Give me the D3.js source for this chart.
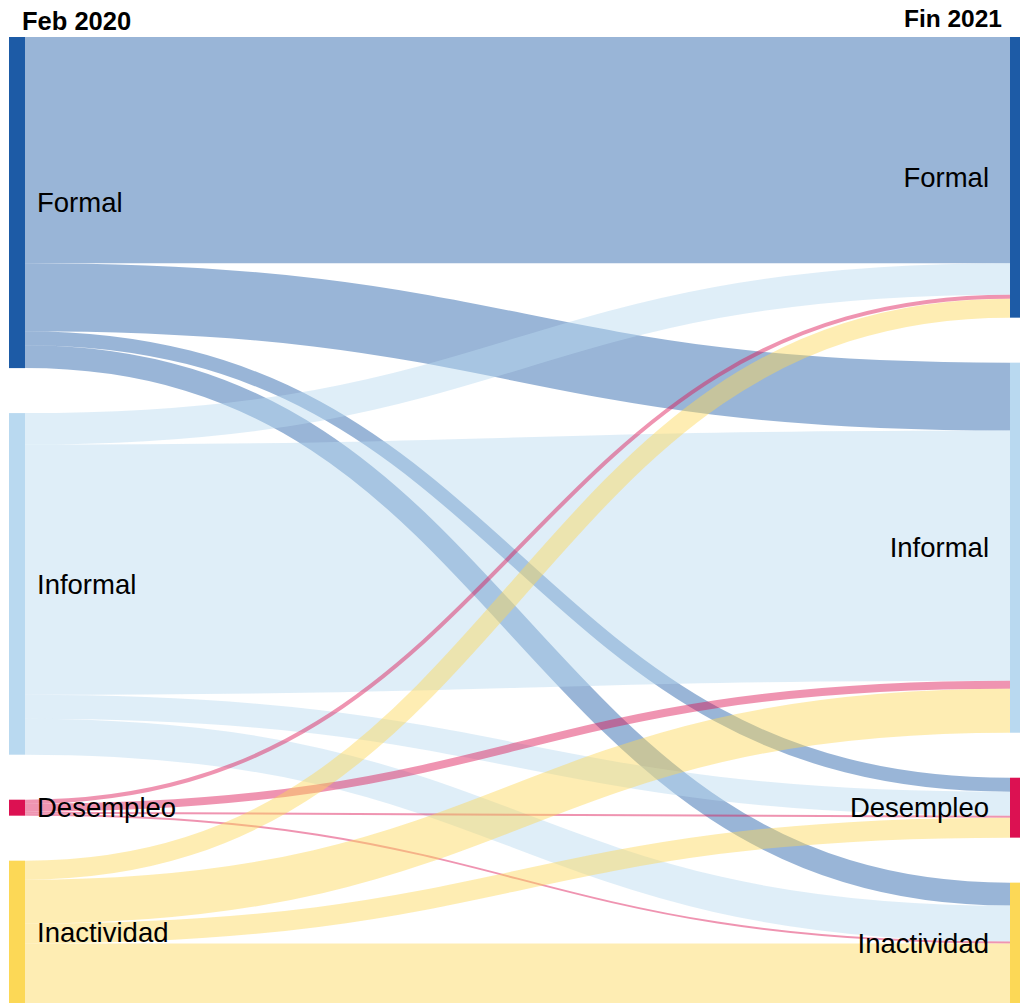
<!DOCTYPE html>
<html>
<head>
<meta charset="utf-8">
<script src="https://cdn.jsdelivr.net/npm/d3@7"></script>
<style>
  html, body { margin: 0; padding: 0; background: #fff; overflow: hidden; }
  svg { display: block; }
  text { font-family: "Liberation Sans", Arial, Helvetica, sans-serif; fill: #000; }
</style>
</head>
<body>
<svg width="1020" height="1003"></svg>
<script>
// categorias (mismo orden en las dos columnas)
var categorias = ["Formal", "Informal", "Desempleo", "Inactividad"];
var colores = ["#1d5ba6", "#b9d9f0", "#dc1152", "#fcd856"];
var titulos = ["Feb 2020", "Fin 2021"];

// flujos: fila = estado en Feb 2020, columna = estado a fin de 2021
var desdeFormal      = [226.5, 68, 14, 23];
var desdeInformal    = [31.5, 250.5, 24, 36];
var desdeDesempleo   = [4, 8, 2, 2];
var desdeInactividad = [19, 44, 20, 60.5];

var flujos = [desdeFormal, desdeInformal, desdeDesempleo, desdeInactividad];

var svg = d3.select("svg"),
    width = +svg.attr("width"),
    nodeWidth = 16,
    padding = 45,
    y0 = 37, y1 = 1004;

var xLeft = 9, xRight = 1010;

// totales por columna
var totIzq = flujos.map(function(f) { return d3.sum(f); });
var totDer = categorias.map(function(c, j) { return d3.sum(flujos, function(f) { return f[j]; }); });
var total = d3.sum(totIzq);

var k = d3.scaleLinear()
    .domain([0, total])
    .range([0, (y1 - y0) - padding * (categorias.length - 1)]);

function apilar(tots, x) {
  var y = y0;
  return tots.map(function(v, i) {
    var n = { i: i, name: categorias[i], x0: x, x1: x + nodeWidth, y0: y, y1: y + k(v) };
    y = n.y1 + padding;
    return n;
  });
}

var izq = apilar(totIzq, xLeft);
var der = apilar(totDer, xRight);

// links, ordenados por el nodo del otro lado
var links = [];
var offIzq = izq.map(function(n) { return n.y0; });
var offDer = der.map(function(n) { return n.y0; });
flujos.forEach(function(f, i) {
  f.forEach(function(v, j) {
    links.push({ s: i, t: j, value: v, width: k(v) });
  });
});
// lado izquierdo: por destino
links.forEach(function(l) {
  l.ys = offIzq[l.s] + l.width / 2;
  offIzq[l.s] += l.width;
});
// lado derecho: por origen
links.slice().sort(function(a, b) { return a.t - b.t || a.s - b.s; }).forEach(function(l) {
  l.yt = offDer[l.t] + l.width / 2;
  offDer[l.t] += l.width;
});

var linkPath = d3.linkHorizontal()
    .source(function(d) { return [xLeft + nodeWidth, d.ys]; })
    .target(function(d) { return [xRight, d.yt]; });

svg.append("g")
    .attr("fill", "none")
  .selectAll("path")
  .data(links)
  .enter().append("path")
    .attr("d", linkPath)
    .attr("stroke", function(d) { return colores[d.s]; })
    .attr("stroke-opacity", 0.45)
    .attr("stroke-width", function(d) { return Math.max(1, d.width); });

var nodos = izq.concat(der);

svg.append("g")
  .selectAll("rect")
  .data(nodos)
  .enter().append("rect")
    .attr("x", function(d) { return d.x0; })
    .attr("y", function(d) { return d.y0; })
    .attr("width", nodeWidth)
    .attr("height", function(d) { return d.y1 - d.y0; })
    .attr("fill", function(d) { return colores[d.i]; });

svg.append("g")
    .style("font-size", "27.5px")
  .selectAll("text")
  .data(nodos)
  .enter().append("text")
    .attr("x", function(d) { return d.x0 < width / 2 ? d.x1 + 12 : d.x0 - 21; })
    .attr("y", function(d) { return (d.y0 + d.y1) / 2; })
    .attr("dy", "0.35em")
    .attr("text-anchor", function(d) { return d.x0 < width / 2 ? "start" : "end"; })
    .text(function(d) { return d.name; });

// titulos de columna
svg.append("text")
    .attr("x", 22).attr("y", 30)
    .style("font-size", "25.5px").style("font-weight", "bold")
    .text(titulos[0]);
svg.append("text")
    .attr("x", 1002).attr("y", 27)
    .attr("text-anchor", "end")
    .style("font-size", "24.5px").style("font-weight", "bold")
    .text(titulos[1]);
</script>
</body>
</html>
